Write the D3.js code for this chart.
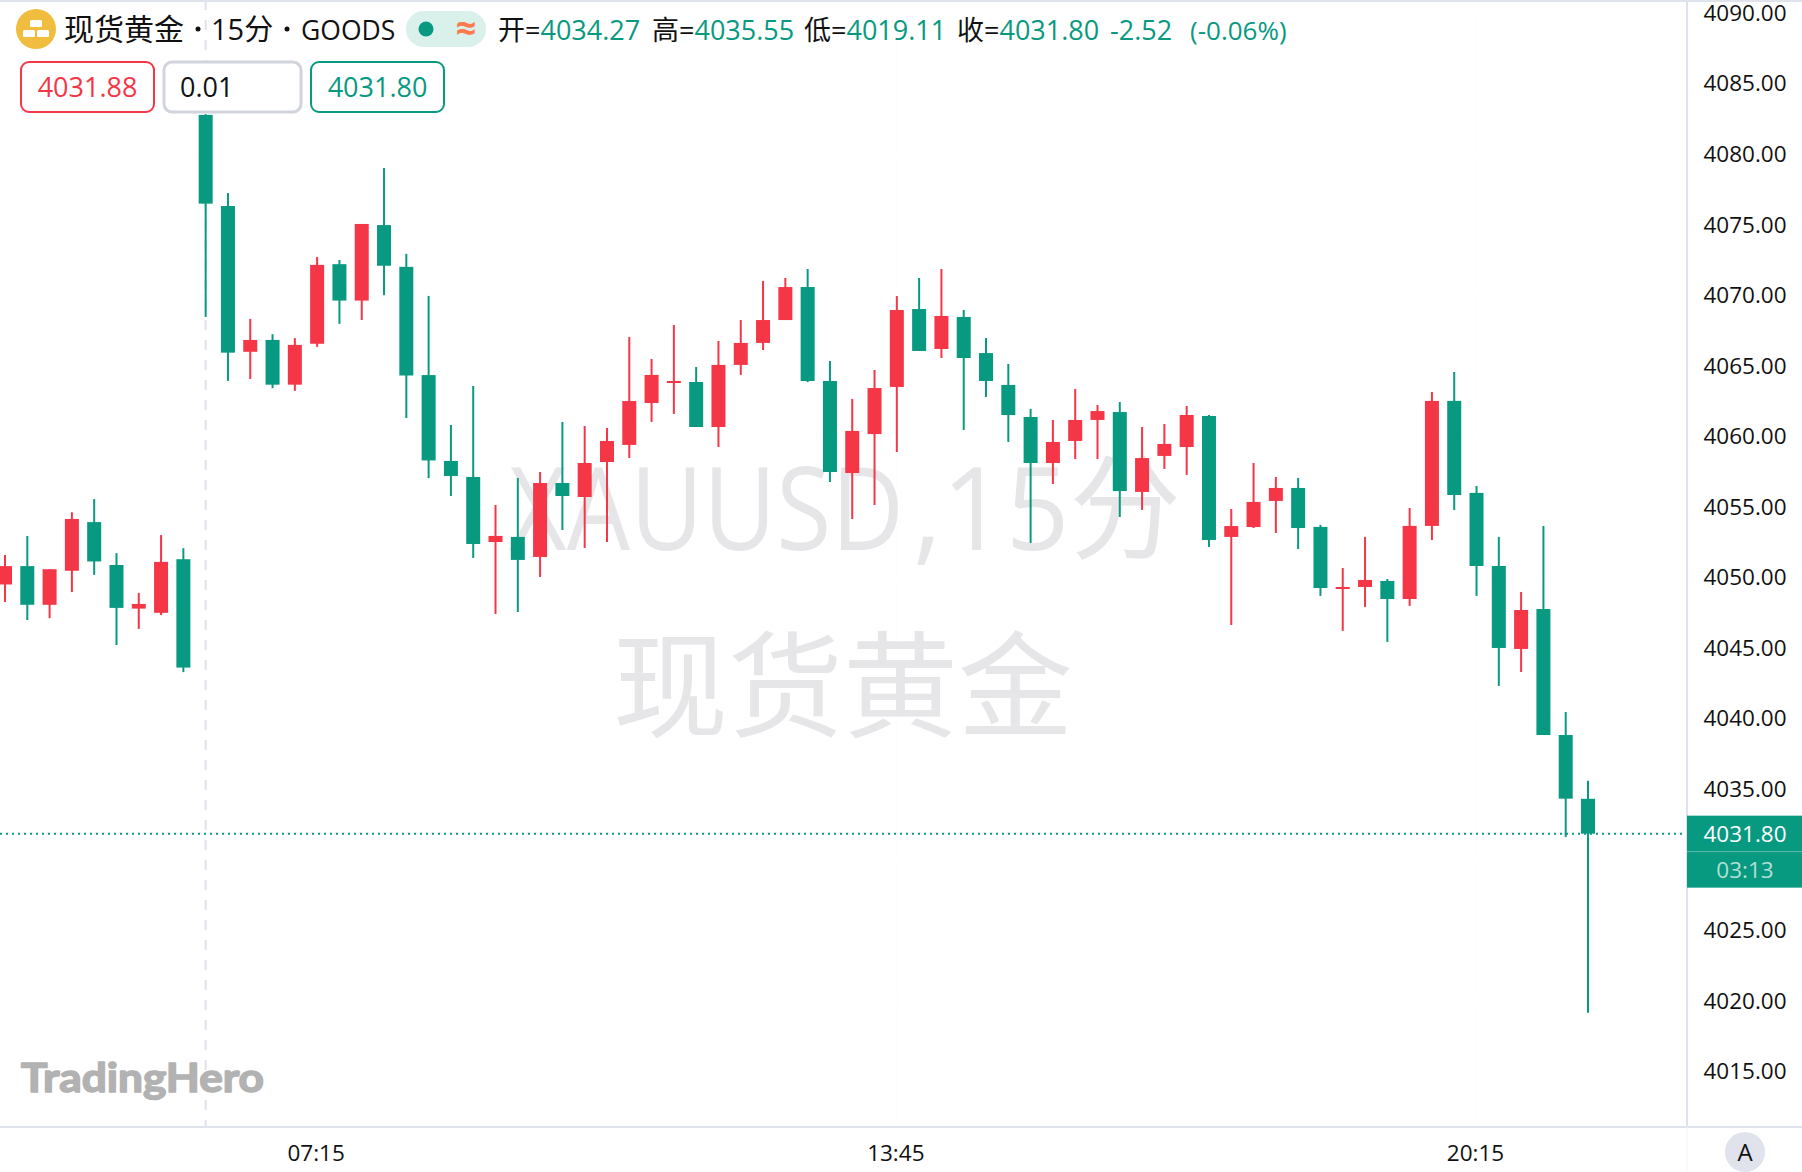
<!DOCTYPE html>
<html lang="zh-CN">
<head>
    <meta charset="UTF-8">
    <title>现货黄金 15分</title>
    <script src="https://d3js.org/d3.v7.min.js"></script>
    <style>
        body{
            margin: 0;
            background-color: white;
        }
        svg{
            display: block;
        }
        text{
            font-family: "Open Sans", "Noto Sans CJK SC", sans-serif;
            fill: #111;
        }
        .cjk{
            font-family: "Noto Sans CJK SC", sans-serif;
        }
    </style>
</head>
<body>
    <svg></svg>
<script>
    const width = 1802;
    const height = 1172;

    /* candle values, left to right, one 15 minute bar each */
    const opens = [4049.46,4050.76,4048.02,4050.43,4053.88,4050.84,4047.75,4047.45,4051.25,4082.74,
        4076.28,4065.95,4066.79,4063.62,4066.52,4072.16,4069.58,4074.93,4071.97,4064.30,
        4058.21,4057.08,4052.47,4052.83,4051.41,4056.65,4055.66,4058.14,4059.35,4062.32,
        4063.74,4063.81,4060.62,4065.02,4066.58,4068.20,4070.54,4063.88,4057.36,4060.12,
        4063.46,4068.98,4066.15,4068.42,4065.86,4063.60,4061.33,4058.07,4059.63,4061.12,
        4061.68,4056.02,4058.57,4059.20,4061.40,4052.83,4053.53,4055.38,4056.30,4053.54,
        4049.14,4049.28,4049.71,4048.43,4053.61,4062.47,4055.95,4050.77,4044.89,4047.72,
        4038.79,4034.27];
    const highs = [4051.55,4052.90,4050.54,4054.58,4055.51,4051.68,4048.86,4052.96,4052.03,4082.79,
        4077.20,4068.28,4067.20,4066.92,4072.67,4072.46,4075.01,4078.97,4072.89,4069.91,
        4060.76,4063.53,4055.09,4057.01,4057.43,4060.98,4060.69,4060.55,4067.00,4065.44,
        4067.85,4064.87,4066.72,4068.20,4070.97,4071.18,4071.82,4065.30,4062.61,4064.66,
        4069.90,4071.18,4071.82,4068.91,4066.93,4065.09,4061.90,4061.12,4063.31,4062.18,
        4062.39,4060.62,4060.83,4062.11,4061.47,4054.81,4058.07,4057.08,4057.01,4053.68,
        4050.63,4052.83,4049.85,4054.88,4063.10,4064.52,4056.44,4052.83,4048.93,4053.61,
        4040.42,4035.55];
    const lows = [4048.21,4046.94,4047.07,4048.92,4050.14,4045.17,4046.31,4047.29,4043.25,4068.42,
        4063.89,4064.02,4063.37,4063.18,4066.30,4067.93,4068.20,4069.96,4061.26,4057.00,
        4055.73,4051.34,4047.37,4047.51,4049.99,4053.32,4052.05,4052.47,4058.42,4060.98,
        4061.54,4060.62,4059.20,4064.31,4066.08,4068.20,4063.81,4056.72,4054.10,4055.09,
        4058.85,4066.01,4065.51,4060.41,4062.75,4059.56,4052.40,4056.58,4058.35,4058.35,
        4054.24,4054.74,4057.65,4057.22,4052.12,4046.59,4053.46,4053.11,4051.97,4048.65,
        4046.17,4047.87,4045.39,4047.94,4052.61,4054.74,4048.65,4042.27,4043.26,4038.79,
        4031.56,4019.11];
    const closes = [4050.76,4048.02,4050.54,4054.10,4051.09,4047.80,4048.08,4051.06,4043.57,4076.45,
        4065.89,4066.79,4063.62,4066.44,4072.11,4069.58,4075.01,4072.05,4064.27,4058.25,
        4057.15,4052.33,4052.90,4051.20,4056.65,4055.73,4058.07,4059.63,4062.46,4064.31,
        4063.88,4060.62,4065.02,4066.58,4068.20,4070.54,4063.88,4057.43,4060.34,4063.38,
        4068.91,4066.01,4068.49,4065.51,4063.88,4061.47,4058.07,4059.56,4061.12,4061.75,
        4056.08,4058.42,4059.42,4061.47,4052.61,4053.60,4055.31,4056.30,4053.46,4049.21,
        4049.28,4049.78,4048.43,4053.61,4062.47,4055.80,4050.77,4044.96,4047.65,4038.79,
        4034.28,4031.80];

    const priceTicks = [4015,4020,4025,4035,4040,4045,4050,4055,4060,4065,4070,4075,4080,4085,4090];
    const gridPrices = [4020,4030,4040,4050,4060,4070,4080,4090];
    const timeTickBars = [14,40,66];
    const timeTickLabels = ['07:15','13:45','20:15'];
    const sessionBar = 9;
    const lastPrice = 4031.80;
    const countdown = '03:13';
    const ohlcNames = ['开=','高=','低=','收='];
    const ohlcValues = ['4034.27','4035.55','4019.11','4031.80'];
    const changeValue = '-2.52';
    const changePercent = '(-0.06%)';
    const askPrice = '4031.88';
    const lotSize = '0.01';
    const bidPrice = '4031.80';

    const upColor = '#f43647';
    const downColor = '#089981';
    const lineColor = '#e0e3eb';
    const paneWidth = 1687;
    const paneBottom = 1127;

    const svg = d3.select('svg')
            .attr('width', width)
            .attr('height', height)
            .attr('viewBox', `0 0 ${width} ${height}`);

    const x = d3.scaleLinear().domain([0, 71]).range([5, 1588]);
    const y = d3.scaleLinear().domain([4015, 4090]).range([1070.7, 12.45]);

    /* faint grid */
    svg.append('g').selectAll('line').data(gridPrices).join('line')
        .attr('x1', 0).attr('x2', paneWidth)
        .attr('y1', d => y(d)).attr('y2', d => y(d))
        .attr('stroke', '#fdfdfd');
    svg.append('g').selectAll('line').data(timeTickBars).join('line')
        .attr('x1', d => x(d)).attr('x2', d => x(d))
        .attr('y1', 0).attr('y2', paneBottom)
        .attr('stroke', '#fdfdfd');

    /* watermark, squeezed sideways to the reference widths */
    function watermark(label, left, targetWidth){
        const t = svg.append('text').text(label)
            .style('font-size', '115px')
            .style('fill', '#e6e6e8');
        const squeeze = targetWidth / t.node().getComputedTextLength();
        t.attr('transform', `translate(${left},550) scale(${squeeze},1)`);
    }
    watermark('XAUUSD', 509, 395);
    watermark(',15分', 913, 268);
    svg.append('text').attr('class', 'cjk').text('现货黄金')
        .attr('x', 843).attr('y', 728)
        .attr('text-anchor', 'middle')
        .style('font-size', '115px')
        .style('fill', '#e6e6e8');

    /* session break */
    svg.append('line')
        .attr('x1', x(sessionBar)).attr('x2', x(sessionBar))
        .attr('y1', 0).attr('y2', paneBottom)
        .attr('stroke', lineColor)
        .attr('stroke-width', 2)
        .attr('stroke-dasharray', '10 10');

    /* last price line */
    svg.append('line')
        .attr('x1', 0).attr('x2', paneWidth)
        .attr('y1', y(lastPrice)).attr('y2', y(lastPrice))
        .attr('stroke', downColor)
        .attr('stroke-width', 2)
        .attr('stroke-dasharray', '2 4');

    /* candles */
    const bars = d3.range(opens.length);
    const candleColor = i => closes[i] >= opens[i] ? upColor : downColor;
    svg.append('g').selectAll('line').data(bars).join('line')
        .attr('x1', i => x(i)).attr('x2', i => x(i))
        .attr('y1', i => y(highs[i])).attr('y2', i => y(lows[i]))
        .attr('stroke', candleColor)
        .attr('stroke-width', 2);
    svg.append('g').selectAll('rect').data(bars).join('rect')
        .attr('x', i => x(i) - 7)
        .attr('width', 14)
        .attr('y', i => y(Math.max(opens[i], closes[i])))
        .attr('height', i => Math.max(2, Math.abs(y(opens[i]) - y(closes[i]))))
        .attr('fill', candleColor);

    /* logo */
    svg.append('text').text('TradingHero')
        .attr('x', 21).attr('y', 1092)
        .attr('textLength', 243)
        .attr('lengthAdjust', 'spacingAndGlyphs')
        .style('font-family', 'Lato')
        .style('font-weight', 700)
        .style('font-size', '41px')
        .style('fill', '#b2b2b2')
        .style('stroke', '#b2b2b2')
        .style('stroke-width', 1.6)
        .style('stroke-linejoin', 'round');

    /* price axis */
    const priceAxis = d3.axisRight(y).tickValues(priceTicks).tickSize(0).tickPadding(0).tickFormat(d3.format('.2f'));
    const priceG = svg.append('g').attr('transform', 'translate(1745,0.7)').call(priceAxis);
    priceG.select('.domain').remove();
    priceG.selectAll('text')
        .attr('text-anchor', 'middle')
        .attr('x', 0)
        .style('font-family', '"Open Sans"')
        .style('font-size', '22.5px')
        .style('fill', '#111');

    /* time axis */
    const timeAxis = d3.axisBottom(x).tickValues(timeTickBars).tickSize(0).tickPadding(0)
        .tickFormat((d, i) => timeTickLabels[i]);
    const timeG = svg.append('g').attr('transform', 'translate(-1.5,1153)').call(timeAxis);
    timeG.select('.domain').remove();
    timeG.selectAll('text')
        .attr('y', 0)
        .attr('dy', '0.35em')
        .style('font-family', '"Open Sans"')
        .style('font-size', '22.5px')
        .style('fill', '#111');

    /* scale borders */
    svg.append('line').attr('x1', paneWidth).attr('x2', paneWidth).attr('y1', 0).attr('y2', paneBottom)
        .attr('stroke', lineColor).attr('stroke-width', 2);
    svg.append('line').attr('x1', 0).attr('x2', width).attr('y1', paneBottom).attr('y2', paneBottom)
        .attr('stroke', lineColor).attr('stroke-width', 2);
    svg.append('line').attr('x1', paneWidth).attr('x2', paneWidth).attr('y1', paneBottom).attr('y2', height)
        .attr('stroke', '#f4f5f8');
    svg.append('line').attr('x1', 0).attr('x2', width).attr('y1', 1).attr('y2', 1)
        .attr('stroke', lineColor).attr('stroke-width', 2);

    /* auto scale button */
    svg.append('circle').attr('cx', 1745).attr('cy', 1152).attr('r', 20).attr('fill', lineColor);
    svg.append('text').text('A')
        .attr('x', 1745).attr('y', 1152).attr('dy', '0.36em')
        .attr('text-anchor', 'middle')
        .style('font-size', '24px');

    /* last price tag */
    svg.append('rect').attr('x', paneWidth).attr('y', y(lastPrice) - 18).attr('width', width - paneWidth).attr('height', 72)
        .attr('fill', downColor);
    svg.append('line').attr('x1', paneWidth).attr('x2', width)
        .attr('y1', y(lastPrice) + 18).attr('y2', y(lastPrice) + 18)
        .attr('stroke', 'rgba(255,255,255,0.35)');
    svg.append('text').text(d3.format('.2f')(lastPrice))
        .attr('x', 1745).attr('y', y(lastPrice)).attr('dy', '0.36em')
        .attr('text-anchor', 'middle')
        .style('font-size', '22.5px')
        .style('fill', 'white');
    svg.append('text').text(countdown)
        .attr('x', 1745).attr('y', y(lastPrice) + 36).attr('dy', '0.36em')
        .attr('text-anchor', 'middle')
        .style('font-size', '22.5px')
        .style('fill', 'rgba(255,255,255,0.7)');

    /* header */
    const icon = svg.append('g');
    icon.append('circle').attr('cx', 36).attr('cy', 29).attr('r', 20).attr('fill', '#f0bd3f');
    [[30, 20], [23, 30], [37, 30]].forEach(p => {
        icon.append('rect').attr('x', p[0]).attr('y', p[1]).attr('width', 12).attr('height', 7)
            .attr('rx', 1.5).attr('fill', 'white');
    });

    svg.append('text').attr('class', 'cjk').text('现货黄金')
        .attr('x', 64).attr('y', 40)
        .style('font-size', '30px');
    svg.append('circle').attr('cx', 198).attr('cy', 29).attr('r', 2.5).attr('fill', '#111');
    svg.append('text').text('15分').attr('x', 211).attr('y', 40).style('font-size', '29px');
    svg.append('circle').attr('cx', 287).attr('cy', 29).attr('r', 2.5).attr('fill', '#111');
    svg.append('text').text('GOODS').attr('x', 301).attr('y', 40).style('font-size', '26.5px');

    svg.append('rect').attr('x', 406).attr('y', 11).attr('width', 80).attr('height', 36).attr('rx', 18)
        .attr('fill', '#d9f0eb');
    svg.append('circle').attr('cx', 426).attr('cy', 29).attr('r', 7.5).attr('fill', downColor);
    svg.append('text').text('≈').attr('x', 466).attr('y', 41)
        .attr('text-anchor', 'middle')
        .style('font-size', '36px').style('font-weight', 700).style('fill', '#ff7a4d');

    const ohlcX = [498, 652, 804, 957];
    ohlcNames.forEach((name, i) => {
        const t = svg.append('text').attr('x', ohlcX[i]).attr('y', 40).style('font-size', '27px');
        t.append('tspan').text(name);
        t.append('tspan').text(ohlcValues[i]).style('fill', downColor);
    });
    svg.append('text').text(changeValue).attr('x', 1110).attr('y', 40)
        .style('font-size', '27px').style('fill', downColor);
    svg.append('text').text(changePercent).attr('x', 1190).attr('y', 40)
        .style('font-size', '26px').style('fill', downColor);

    /* order boxes */
    function orderBox(x0, w, color, strokeW, label, textColor, leftAlign){
        svg.append('rect').attr('x', x0).attr('y', 62).attr('width', w).attr('height', 50).attr('rx', 8)
            .attr('fill', 'white').attr('stroke', color).attr('stroke-width', strokeW);
        svg.append('text').text(label)
            .attr('x', leftAlign ? x0 + 16 : x0 + w / 2)
            .attr('y', 87).attr('dy', '0.36em')
            .attr('text-anchor', leftAlign ? 'start' : 'middle')
            .style('font-size', '27px')
            .style('fill', textColor);
    }
    orderBox(21, 133, upColor, 2, askPrice, upColor, false);
    orderBox(164, 137, '#d1d4dc', 3, lotSize, '#111', true);
    orderBox(311, 133, downColor, 2, bidPrice, downColor, false);
</script>
</body>
</html>
